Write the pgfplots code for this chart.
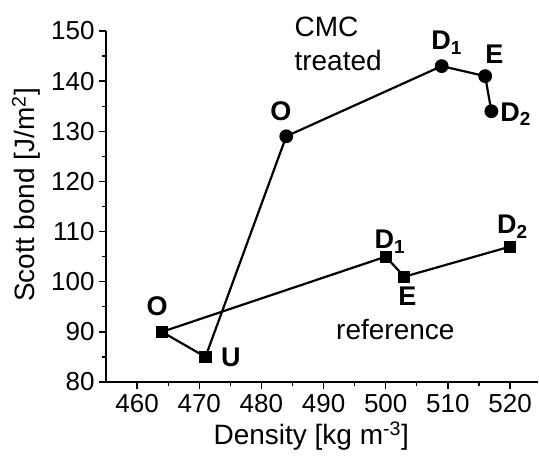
\documentclass[border=0pt]{standalone}
\usepackage{pgfplots}
\pgfplotsset{compat=1.18}
\usepackage{fontspec}
\setmainfont{Liberation Sans}
\begin{document}
\begin{tikzpicture}
\useasboundingbox (-106bp,-76bp) rectangle (433bp,382bp);
\begin{axis}[
  at={(0,0)}, anchor=south west,
  scale only axis, width=432bp, height=351bp,
  xmin=455, xmax=524.5, ymin=80, ymax=150,
  axis lines*=left,
  axis line style={line width=1.4bp},
  xtick={460,470,...,520}, ytick={80,90,...,150},
  minor x tick num=1, minor y tick num=1,
  tick align=outside,
  major tick length=7bp, minor tick length=4bp,
  every tick/.style={black, line width=1.3bp},
  /pgf/number format/assume math mode=true,
  /pgf/number format/1000 sep={},
  tick label style={font=\fontsize{26bp}{30bp}\selectfont},
  xticklabel style={yshift=-2bp},
  yticklabel style={xshift=-1bp},
  xlabel={Density [kg m\textsuperscript{-3}]},
  ylabel={Scott bond [J/m\textsuperscript{2}]},
  label style={font=\fontsize{28bp}{34bp}\selectfont},
  xlabel style={at={(axis description cs:0.475,-0.177)}, anchor=base},
  ylabel style={at={(axis description cs:-0.185,0.533)}, anchor=center},
  clip=false,
]
\addplot[black, line width=2.2bp, mark=*, mark size=5.8bp, mark indices={2,3,4,5}]
  coordinates {(471,85) (484,129) (509,143) (516,141) (517,134)};
\addplot[black, line width=2.2bp, mark=square*, mark size=5bp]
  coordinates {(471,85) (464,90) (500,105) (503,101) (520,107)};
\begin{scope}[every node/.style={font=\fontsize{27bp}{30bp}\selectfont\bfseries, anchor=base west, inner sep=0pt}]
\node at (axis cs:481.4,132.2) {O};
\node at (axis cs:507.3,146.3) {D\textsubscript{1}};
\node at (axis cs:516.0,143.5) {E};
\node at (axis cs:518.4,132.05) {D\textsubscript{2}};
\node at (axis cs:461.5,93.3) {O};
\node at (axis cs:473.5,83.05) {U};
\node at (axis cs:498.2,106.6) {D\textsubscript{1}};
\node at (axis cs:502.0,95.2) {E};
\node at (axis cs:517.9,109.6) {D\textsubscript{2}};
\end{scope}
\begin{scope}[every node/.style={font=\fontsize{28bp}{34bp}\selectfont, anchor=base west, inner sep=0pt}]
\node at (axis cs:485.3,148.9) {CMC};
\node at (axis cs:485.3,142.15) {treated};
\node at (axis cs:492.0,88.4) {reference};
\end{scope}
\end{axis}
\end{tikzpicture}
\end{document}
